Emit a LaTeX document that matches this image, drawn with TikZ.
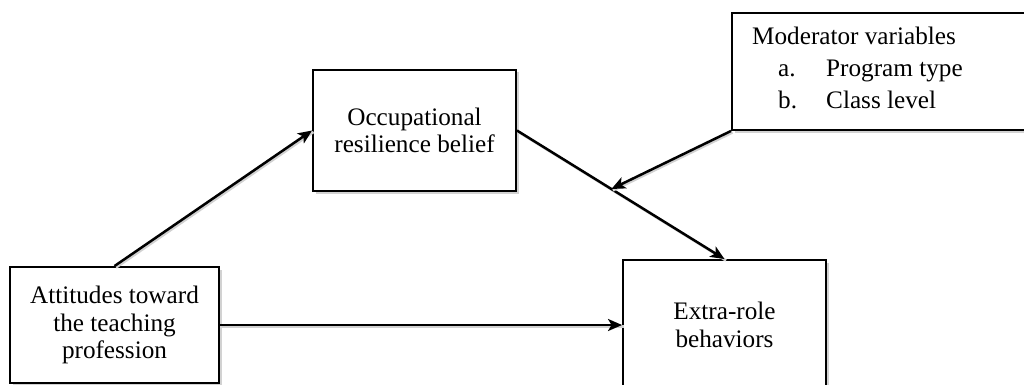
\documentclass[tikz,border=0pt]{standalone}
\usepackage{fontspec}
\setmainfont{Liberation Serif}
\usetikzlibrary{arrows.meta,shadows}
\begin{document}
\begin{tikzpicture}[x=1pt,y=-1pt,
  box/.style={draw, line width=1.9pt, fill=white, inner sep=0pt, align=center,
    font=\fontsize{25.2}{27.5}\selectfont,
    drop shadow={shadow xshift=2.5pt, shadow yshift=-2.5pt, fill=black!35, opacity=0.5}},
  conn/.style={line width=2.5pt, -{Stealth[length=14pt,width=12pt,inset=3.5pt]},
    preaction={draw=black!18, line width=2.5pt, -, transform canvas={shift={(1.5pt,-1.5pt)}}}},
  txt/.style={anchor=base west, inner sep=0pt, font=\fontsize{25.2}{27.5}\selectfont}]
\clip (0,0) rectangle (1024,385);
\fill[white] (0,0) rectangle (1024,385);
\node[box, minimum width=209pt, minimum height=116pt] (A) at (114.5,325) {Attitudes toward\\the teaching\\profession};
\node[box, minimum width=203pt, minimum height=121pt] (O) at (414.5,130.5) {Occupational\\resilience belief};
\node[box, minimum width=294pt, minimum height=117pt] (M) at (879,71.5) {};
\node[box, minimum width=203pt, minimum height=130pt] (E) at (724.5,325) {Extra-role\\behaviors};
\node[txt] (m1) at (752,45) {Moderator variables};
\node[txt] (m2a) at (778,77) {a.};
\node[txt] (m2b) at (826,77) {Program type};
\node[txt] (m3a) at (778,108.5) {b.};
\node[txt] (m3b) at (826,108.5) {Class level};
\path (O.east) -- (E.north) coordinate[pos=0.455] (mid);
\draw[conn] (A.north) -- (O.west);
\draw[conn] (O.east) -- (E.north);
\draw[conn] (M.south west) -- (mid);
\draw[conn] (A.east) -- (E.west);
\end{tikzpicture}
\end{document}
